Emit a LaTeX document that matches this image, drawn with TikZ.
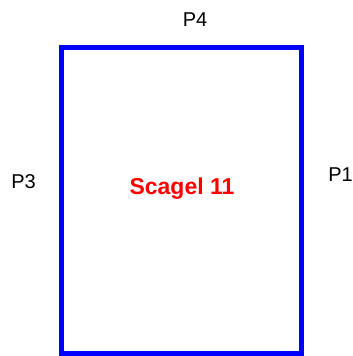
\documentclass[tikz,border=0pt]{standalone}
\usepackage{fontspec}
\setmainfont{Liberation Sans}
\usetikzlibrary{positioning}

\begin{document}
\begin{tikzpicture}[x=1pt, y=-1pt,
    side/.style={font=\fontsize{20}{24}\selectfont, anchor=base},
    wall/.style={blue, line width=5pt}]
  \useasboundingbox (0,0) rectangle (353,356);
  \draw[wall] (61.5,47.5) rectangle (301.5,353.5);
  \node[side] (p4) at (195,27) {P4};
  \node[side] (p3) at (23.5,188.5) {P3};
  \node[side] (p1) at (340.5,181) {P1};
  \node[anchor=base, red, font=\fontsize{23}{27}\selectfont\bfseries] (name) at (182,194) {Scagel 11};
\end{tikzpicture}
\end{document}
